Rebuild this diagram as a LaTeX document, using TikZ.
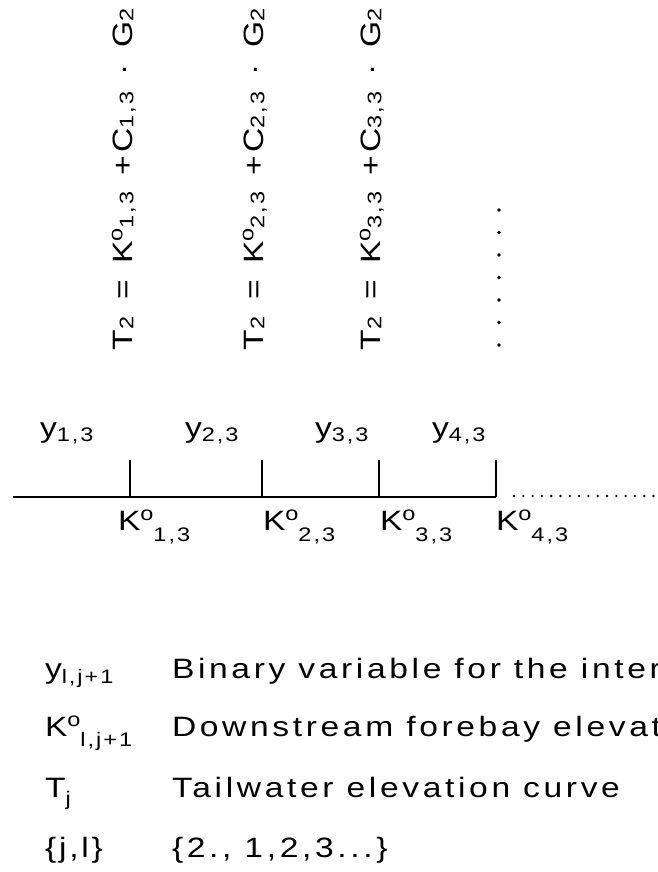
\documentclass[tikz,border=0pt]{standalone}
\usepackage{fontspec}
\setmainfont[LetterSpace=10,FakeStretch=1.2]{Liberation Sans}
\newcommand\lsub[2][0.15em]{\raisebox{-#1}{\fontsize{19.6}{19.6}\selectfont #2}}
\newcommand\kdeg{\raisebox{0.34em}{\fontsize{19.6}{19.6}\selectfont o}}
\newcommand\fgap{\hspace{16.5pt}}
\newcommand\fsub[1]{\lsub[0.05em]{#1}}
\tikzset{
  txt/.style={inner sep=0pt, outer sep=0pt, anchor=base west, font=\fontsize{28}{28}\selectfont},
  legtxt/.style={txt, font=\fontsize{28}{28}\selectfont\addfontfeature{LetterSpace=13}},
  formula/.style={txt, rotate=90},
  axis/.style={line width=1.8pt},
  tick/.style={line width=1.4pt},
  dotline/.style={line width=2.6pt, line cap=round, dash pattern=on 0pt off 9.3pt},
  vdot/.style={fill=black, draw=none}
}
\begin{document}
\begin{tikzpicture}[x=1pt,y=-1pt]
\useasboundingbox (0,0) rectangle (658,872);
\fill[white] (0,0) rectangle (658,872);
\clip (0,0) rectangle (658,872);
% rotated formulas
\node[formula] (f1) at (132,350) {T\fsub{2}\fgap=\fgap K\kdeg\fsub{1,3}\fgap+C\fsub{1,3}\fgap·\fgap G\fsub{2}};
\node[formula] (f2) at (263,350) {T\fsub{2}\fgap=\fgap K\kdeg\fsub{2,3}\fgap+C\fsub{2,3}\fgap·\fgap G\fsub{2}};
\node[formula] (f3) at (380,350) {T\fsub{2}\fgap=\fgap K\kdeg\fsub{3,3}\fgap+C\fsub{3,3}\fgap·\fgap G\fsub{2}};
\foreach \k in {0,...,6} { \fill[vdot] (499,{210+22.5*\k}) circle (1.8pt); }
% y labels
\node[txt] (y1) at (40,437) {y\lsub{1,3}};
\node[txt] (y2) at (185,437) {y\lsub{2,3}};
\node[txt] (y3) at (315,437) {y\lsub{3,3}};
\node[txt] (y4) at (432,437) {y\lsub{4,3}};
% axis with ticks
\coordinate (L0) at (13,497);
\coordinate (t1) at (130,497); \coordinate (t1u) at (130,460);
\coordinate (t2) at (262,497); \coordinate (t2u) at (262,460);
\coordinate (t3) at (379,497); \coordinate (t3u) at (379,460);
\coordinate (t4) at (496,497); \coordinate (t4u) at (496,460);
\coordinate (d0) at (514,496); \coordinate (d1) at (660,496);
\draw[axis] (L0) -- (t4);
\draw[tick] (t1) -- (t1u);
\draw[tick] (t2) -- (t2u);
\draw[tick] (t3) -- (t3u);
\draw[tick] (t4) -- (t4u);
\draw[dotline] (d0) -- (d1);
% K labels
\node[txt] (k1) at (118,530) {K\kdeg\lsub[0.42em]{1,3}};
\node[txt] (k2) at (263,530) {K\kdeg\lsub[0.42em]{2,3}};
\node[txt] (k3) at (380,530) {K\kdeg\lsub[0.42em]{3,3}};
\node[txt] (k4) at (496,530) {K\kdeg\lsub[0.42em]{4,3}};
% legend
\node[txt] (ly) at (45,678) {y\lsub[0.18em]{l,j+1}};
\node[legtxt] (lyd) at (172,678) {Binary variable for the inter};
\node[txt] (lk) at (45,736) {K\kdeg\lsub[0.36em]{l,j+1}};
\node[legtxt] (lkd) at (172,736) {Downstream forebay elevat};
\node[txt] (lt) at (45,797) {T\lsub[0.3em]{j}};
\node[legtxt] (ltd) at (172,797) {Tailwater elevation curve};
\node[txt] (lj) at (45,857) {\{j,l\}};
\node[legtxt] (ljd) at (172,857) {\{2., 1,2,3...\}};
\end{tikzpicture}
\end{document}
